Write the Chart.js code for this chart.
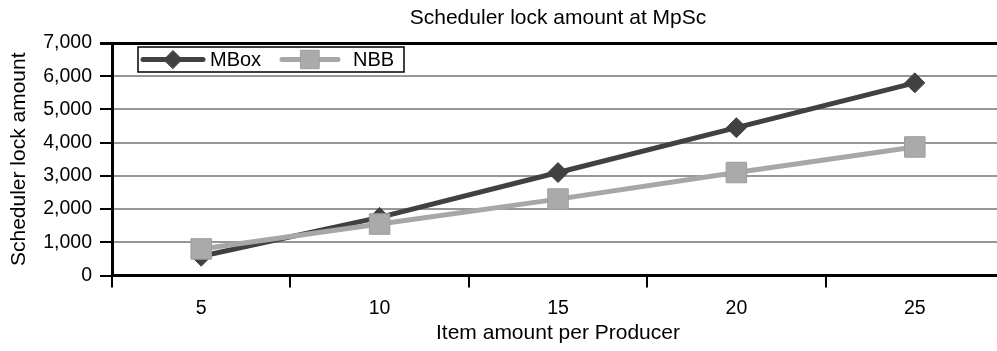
<!DOCTYPE html>
<html>
<head>
<meta charset="utf-8">
<script src="https://cdn.jsdelivr.net/npm/chart.js@4.4.1/dist/chart.umd.min.js"></script>
<style>
  html, body { margin: 0; padding: 0; background: #fff; overflow: hidden; }
  canvas { display: block; }
</style>
</head>
<body>
<canvas id="chart" width="1004" height="351"></canvas>
<script>
// Item amount per producer (x categories)
const categories = ['5', '10', '15', '20', '25'];
// Scheduler lock amount per series
const mboxValues = [580, 1750, 3100, 4450, 5800];
const nbbValues = [800, 1550, 2300, 3100, 3870];
// Value axis ticks
const yTicks = [0, 1000, 2000, 3000, 4000, 5000, 6000, 7000];

const FONT = "'Liberation Sans', Arial, Helvetica, sans-serif";
const MBOX_COLOR = '#414141';
const NBB_COLOR = '#a7a7a7';

// Legend drawn inside the plot area, in a white box with a black frame
const boxedLegend = {
  id: 'boxedLegend',
  afterDatasetsDraw(chart) {
    const { ctx, chartArea } = chart;
    const x0 = chartArea.left + 26;
    const y0 = chartArea.top + 4;
    const w = 266, h = 25;
    const cy = y0 + h / 2;
    ctx.save();
    ctx.fillStyle = '#fff';
    ctx.fillRect(x0, y0, w, h);
    ctx.strokeStyle = '#000';
    ctx.lineWidth = 1.5;
    ctx.strokeRect(x0, y0, w, h);

    const entries = [
      { index: 0, lineFrom: 5, lineTo: 65, textX: 72 },
      { index: 1, lineFrom: 144, lineTo: 200, textX: 215 }
    ];
    entries.forEach(e => {
      const ds = chart.data.datasets[e.index];
      ctx.strokeStyle = ds.borderColor;
      ctx.lineWidth = ds.borderWidth;
      ctx.lineCap = 'round';
      ctx.beginPath();
      ctx.moveTo(x0 + e.lineFrom, cy);
      ctx.lineTo(x0 + e.lineTo, cy);
      ctx.stroke();
      ctx.fillStyle = ds.pointBackgroundColor;
      ctx.strokeStyle = ds.pointBorderColor;
      ctx.lineWidth = ds.pointBorderWidth;
      Chart.helpers.drawPoint(ctx, {
        pointStyle: ds.pointStyle,
        radius: ds.pointStyle === 'rect' ? 13 : 9,
        rotation: 0,
        borderWidth: ds.pointBorderWidth
      }, x0 + (e.lineFrom + e.lineTo) / 2, cy);
      ctx.fillStyle = '#000';
      ctx.font = '20px ' + FONT;
      ctx.textAlign = 'left';
      ctx.textBaseline = 'middle';
      ctx.fillText(ds.label, x0 + e.textX, cy + 1);
    });
    ctx.restore();
  }
};

new Chart(document.getElementById('chart'), {
  type: 'line',
  data: {
    labels: categories,
    datasets: [
      {
        label: 'MBox',
        data: mboxValues,
        order: 1,
        borderColor: MBOX_COLOR,
        borderWidth: 5,
        pointStyle: 'rectRot',
        pointRadius: 10,
        pointHoverRadius: 10,
        pointBackgroundColor: MBOX_COLOR,
        pointBorderColor: MBOX_COLOR,
        pointBorderWidth: 1,
        tension: 0
      },
      {
        label: 'NBB',
        data: nbbValues,
        order: 0,
        borderColor: NBB_COLOR,
        borderWidth: 5,
        pointStyle: 'rect',
        pointRadius: 14.5,
        pointHoverRadius: 14.5,
        pointBackgroundColor: '#aaaaaa',
        pointBorderColor: '#9d9d9d',
        pointBorderWidth: 1,
        tension: 0
      }
    ]
  },
  options: {
    responsive: false,
    animation: false,
    events: [],
    layout: { autoPadding: false, padding: { left: 0, right: 0, top: 0, bottom: 0 } },
    plugins: {
      legend: { display: false },
      tooltip: { enabled: false },
      title: {
        display: true,
        text: 'Scheduler lock amount at MpSc',
        fullSize: false,
        color: '#000',
        font: { family: FONT, size: 21, weight: 'normal' },
        padding: { top: 6, bottom: 11.8 }
      }
    },
    scales: {
      x: {
        type: 'category',
        offset: true,
        afterFit(scale) {
          scale.height = 75.5;
          scale.paddingLeft = 0;
          scale.paddingRight = 0;
        },
        border: { display: true, color: '#000', width: 3 },
        grid: {
          offset: true,
          drawOnChartArea: false,
          drawTicks: true,
          tickLength: 12,
          color: '#000',
          lineWidth: 2
        },
        ticks: {
          color: '#000',
          padding: 9,
          maxRotation: 0,
          font: { family: FONT, size: 19.5 }
        },
        title: {
          display: true,
          text: 'Item amount per Producer',
          color: '#000',
          font: { family: FONT, size: 21 },
          padding: { top: 0, bottom: 5 }
        }
      },
      y: {
        min: 0,
        max: 7000,
        afterFit(scale) { scale.width = 112; },
        afterBuildTicks(scale) { scale.ticks = yTicks.map(v => ({ value: v })); },
        border: { display: true, color: '#000', width: 3 },
        grid: {
          drawTicks: true,
          tickLength: 12,
          color: ctx => (ctx.tick && ctx.tick.value === 7000) ? '#000' : '#969696',
          tickColor: '#000',
          lineWidth: ctx => (ctx.tick && ctx.tick.value === 7000) ? 3 : 2
        },
        ticks: {
          color: '#000',
          padding: 8,
          font: { family: FONT, size: 19.5 },
          callback: v => Number(v).toLocaleString('en-US')
        },
        title: {
          display: true,
          text: 'Scheduler lock amount',
          color: '#000',
          font: { family: FONT, size: 21 },
          padding: { top: 7, bottom: 0 }
        }
      }
    }
  },
  plugins: [boxedLegend]
});
</script>
</body>
</html>
